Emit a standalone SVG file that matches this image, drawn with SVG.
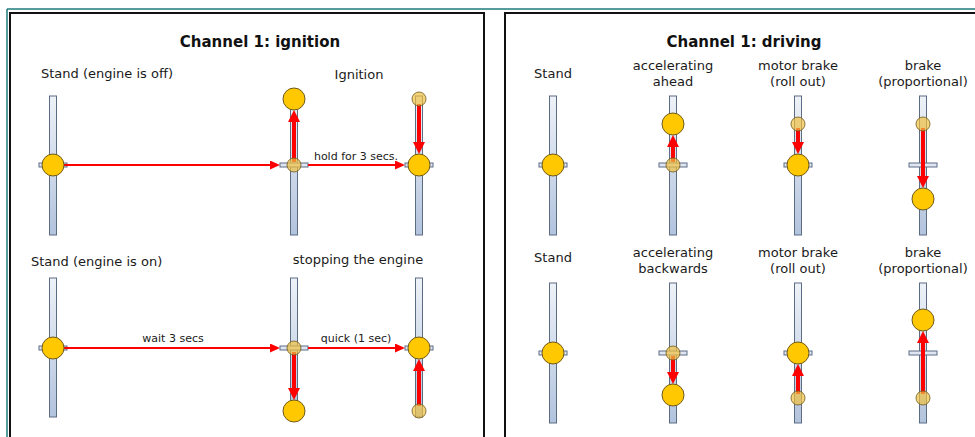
<svg xmlns="http://www.w3.org/2000/svg" width="975" height="437" viewBox="0 0 975 437">
<style>
.bar{fill:url(#barg);stroke:#5d6c85;stroke-width:1}
.tick{fill:#dfe6f1;stroke:#5d6c85;stroke-width:1}
.knob{fill:#ffc800;stroke:#6e5a1e;stroke-width:1}
.fade{fill:#f0c040;fill-opacity:0.7;stroke:#6e5a1e;stroke-opacity:0.8;stroke-width:1}
.h{stroke:#ff0000;stroke-width:2;fill:none;marker-end:url(#ah)}
.v{stroke:#ff0000;stroke-width:4;fill:none;marker-end:url(#av)}
.lbl{font-family:"DejaVu Sans",sans-serif;font-size:13px;fill:#1a1a1a}
.sm{font-family:"DejaVu Sans",sans-serif;font-size:11px;fill:#1a1a1a}
.ttl{font-family:"DejaVu Sans",sans-serif;font-size:15px;font-weight:bold;fill:#111}
</style>
<defs>
<linearGradient id="barg" x1="0" y1="0" x2="0" y2="1">
<stop offset="0" stop-color="#eef2f8"/>
<stop offset="1" stop-color="#b2c3dd"/>
</linearGradient>
<marker id="ah" markerUnits="userSpaceOnUse" markerWidth="10" markerHeight="9" refX="5" refY="4.5" orient="auto" viewBox="0 0 10 9">
<path d="M0,0 L10,4.5 L0,9 z" fill="#ff0000"/>
</marker>
<marker id="av" markerUnits="userSpaceOnUse" markerWidth="12" markerHeight="12" refX="4" refY="6" orient="auto" viewBox="0 0 12 12">
<path d="M0,0 L12,6 L0,12 z" fill="#ff0000"/>
</marker>
</defs>
<rect width="975" height="437" fill="#ffffff"/>
<g id="frames">
<line x1="7" y1="9" x2="975" y2="9" stroke="#1f7a7a" stroke-width="1.5"/>
<line x1="7" y1="9" x2="7" y2="437" stroke="#1f7a7a" stroke-width="1.5"/>
<rect x="10" y="13" width="474" height="440" fill="none" stroke="#111" stroke-width="2"/>
<rect x="505" y="13" width="480" height="440" fill="none" stroke="#111" stroke-width="2"/>
</g>
<g id="texts">
<text class="ttl" x="260" y="47" text-anchor="middle">Channel 1: ignition</text>
<text class="lbl" x="41" y="78">Stand (engine is off)</text>
<text class="lbl" x="359" y="79" text-anchor="middle">Ignition</text>
<text class="lbl" x="31" y="266">Stand (engine is on)</text>
<text class="lbl" x="358" y="264" text-anchor="middle">stopping the engine</text>
<text class="ttl" x="744" y="47" text-anchor="middle">Channel 1: driving</text>
<text class="lbl" x="553" y="78" text-anchor="middle">Stand</text>
<text class="lbl" x="673" y="70" text-anchor="middle">accelerating</text>
<text class="lbl" x="673" y="86" text-anchor="middle">ahead</text>
<text class="lbl" x="798" y="70" text-anchor="middle">motor brake</text>
<text class="lbl" x="798" y="86" text-anchor="middle">(roll out)</text>
<text class="lbl" x="923" y="70" text-anchor="middle">brake</text>
<text class="lbl" x="923" y="86" text-anchor="middle">(proportional)</text>
<text class="lbl" x="553" y="262" text-anchor="middle">Stand</text>
<text class="lbl" x="673" y="257" text-anchor="middle">accelerating</text>
<text class="lbl" x="673" y="273" text-anchor="middle">backwards</text>
<text class="lbl" x="798" y="257" text-anchor="middle">motor brake</text>
<text class="lbl" x="798" y="273" text-anchor="middle">(roll out)</text>
<text class="lbl" x="923" y="257" text-anchor="middle">brake</text>
<text class="lbl" x="923" y="273" text-anchor="middle">(proportional)</text>
</g>
<!-- bars and ticks -->
<g id="bars">
<rect class="bar" x="49.5" y="96" width="7" height="139"/><rect class="tick" x="39" y="163" width="28" height="4"/>
<rect class="bar" x="290.5" y="96" width="7" height="139"/><rect class="tick" x="280" y="163" width="28" height="4"/>
<rect class="bar" x="415.5" y="96" width="7" height="139"/><rect class="tick" x="405" y="163" width="28" height="4"/>
<rect class="bar" x="49.5" y="278" width="7" height="139"/><rect class="tick" x="39" y="346" width="28" height="4"/>
<rect class="bar" x="290.5" y="278" width="7" height="139"/><rect class="tick" x="280" y="346" width="28" height="4"/>
<rect class="bar" x="415.5" y="278" width="7" height="139"/><rect class="tick" x="405" y="346" width="28" height="4"/>
<rect class="bar" x="549.5" y="96" width="7" height="139"/><rect class="tick" x="539" y="163" width="28" height="4"/>
<rect class="bar" x="669.5" y="96" width="7" height="139"/><rect class="tick" x="659" y="163" width="28" height="4"/>
<rect class="bar" x="794.5" y="96" width="7" height="139"/><rect class="tick" x="784" y="163" width="28" height="4"/>
<rect class="bar" x="919.5" y="96" width="7" height="139"/><rect class="tick" x="909" y="163" width="28" height="4"/>
<rect class="bar" x="549.5" y="283" width="7" height="140"/><rect class="tick" x="539" y="351" width="28" height="4"/>
<rect class="bar" x="669.5" y="283" width="7" height="140"/><rect class="tick" x="659" y="351" width="28" height="4"/>
<rect class="bar" x="794.5" y="283" width="7" height="140"/><rect class="tick" x="784" y="351" width="28" height="4"/>
<rect class="bar" x="919.5" y="283" width="7" height="140"/><rect class="tick" x="909" y="351" width="28" height="4"/>
</g>
<g id="connectors">
<line class="h" x1="64" y1="165" x2="275" y2="165"/>
<line class="h" x1="308" y1="165" x2="400" y2="165"/>
<text class="sm" x="356" y="160" text-anchor="middle">hold for 3 secs.</text>
<line class="v" x1="294" y1="162" x2="294" y2="118"/>
<line class="v" x1="419" y1="104" x2="419" y2="146"/>
<line class="h" x1="64" y1="348" x2="275" y2="348"/>
<text class="sm" x="173" y="342" text-anchor="middle">wait 3 secs</text>
<line class="h" x1="308" y1="348" x2="400" y2="348"/>
<text class="sm" x="356" y="342" text-anchor="middle">quick (1 sec)</text>
<line class="v" x1="294" y1="352" x2="294" y2="392"/>
<line class="v" x1="419" y1="406" x2="419" y2="367"/>
<line class="v" x1="673" y1="162" x2="673" y2="143"/>
<line class="v" x1="798" y1="128" x2="798" y2="146"/>
<line class="v" x1="923" y1="128" x2="923" y2="180"/>
<line class="v" x1="673" y1="356" x2="673" y2="376"/>
<line class="v" x1="798" y1="394" x2="798" y2="372"/>
<line class="v" x1="923" y1="394" x2="923" y2="339"/>
</g>
<g id="ign-stand-off"><circle class="knob" cx="53" cy="165" r="11"/></g>
<g id="ign-up"><circle class="fade" cx="294" cy="165" r="7"/><circle class="knob" cx="294" cy="99" r="11"/></g>
<g id="ign-hold"><circle class="fade" cx="419" cy="99" r="7"/><circle class="knob" cx="419" cy="165" r="11"/></g>
<g id="ign-stand-on"><circle class="knob" cx="53" cy="348" r="11"/></g>
<g id="stop-down"><circle class="fade" cx="294" cy="348" r="7"/><circle class="knob" cx="294" cy="411" r="11"/></g>
<g id="stop-back"><circle class="fade" cx="419" cy="411" r="7"/><circle class="knob" cx="419" cy="348" r="11"/></g>
<g id="drv-stand-1"><circle class="knob" cx="553" cy="165" r="11"/></g>
<g id="drv-ahead"><circle class="fade" cx="673" cy="165" r="7"/><circle class="knob" cx="673" cy="124" r="11"/></g>
<g id="drv-rollout-1"><circle class="fade" cx="798" cy="124" r="7"/><circle class="knob" cx="798" cy="165" r="11"/></g>
<g id="drv-brake-1"><circle class="fade" cx="923" cy="124" r="7"/><circle class="knob" cx="923" cy="199" r="11"/></g>
<g id="drv-stand-2"><circle class="knob" cx="553" cy="353" r="11"/></g>
<g id="drv-back"><circle class="fade" cx="673" cy="353" r="7"/><circle class="knob" cx="673" cy="395" r="11"/></g>
<g id="drv-rollout-2"><circle class="fade" cx="798" cy="398" r="7"/><circle class="knob" cx="798" cy="353" r="11"/></g>
<g id="drv-brake-2"><circle class="fade" cx="923" cy="398" r="7"/><circle class="knob" cx="923" cy="320" r="11"/></g>
</svg>
